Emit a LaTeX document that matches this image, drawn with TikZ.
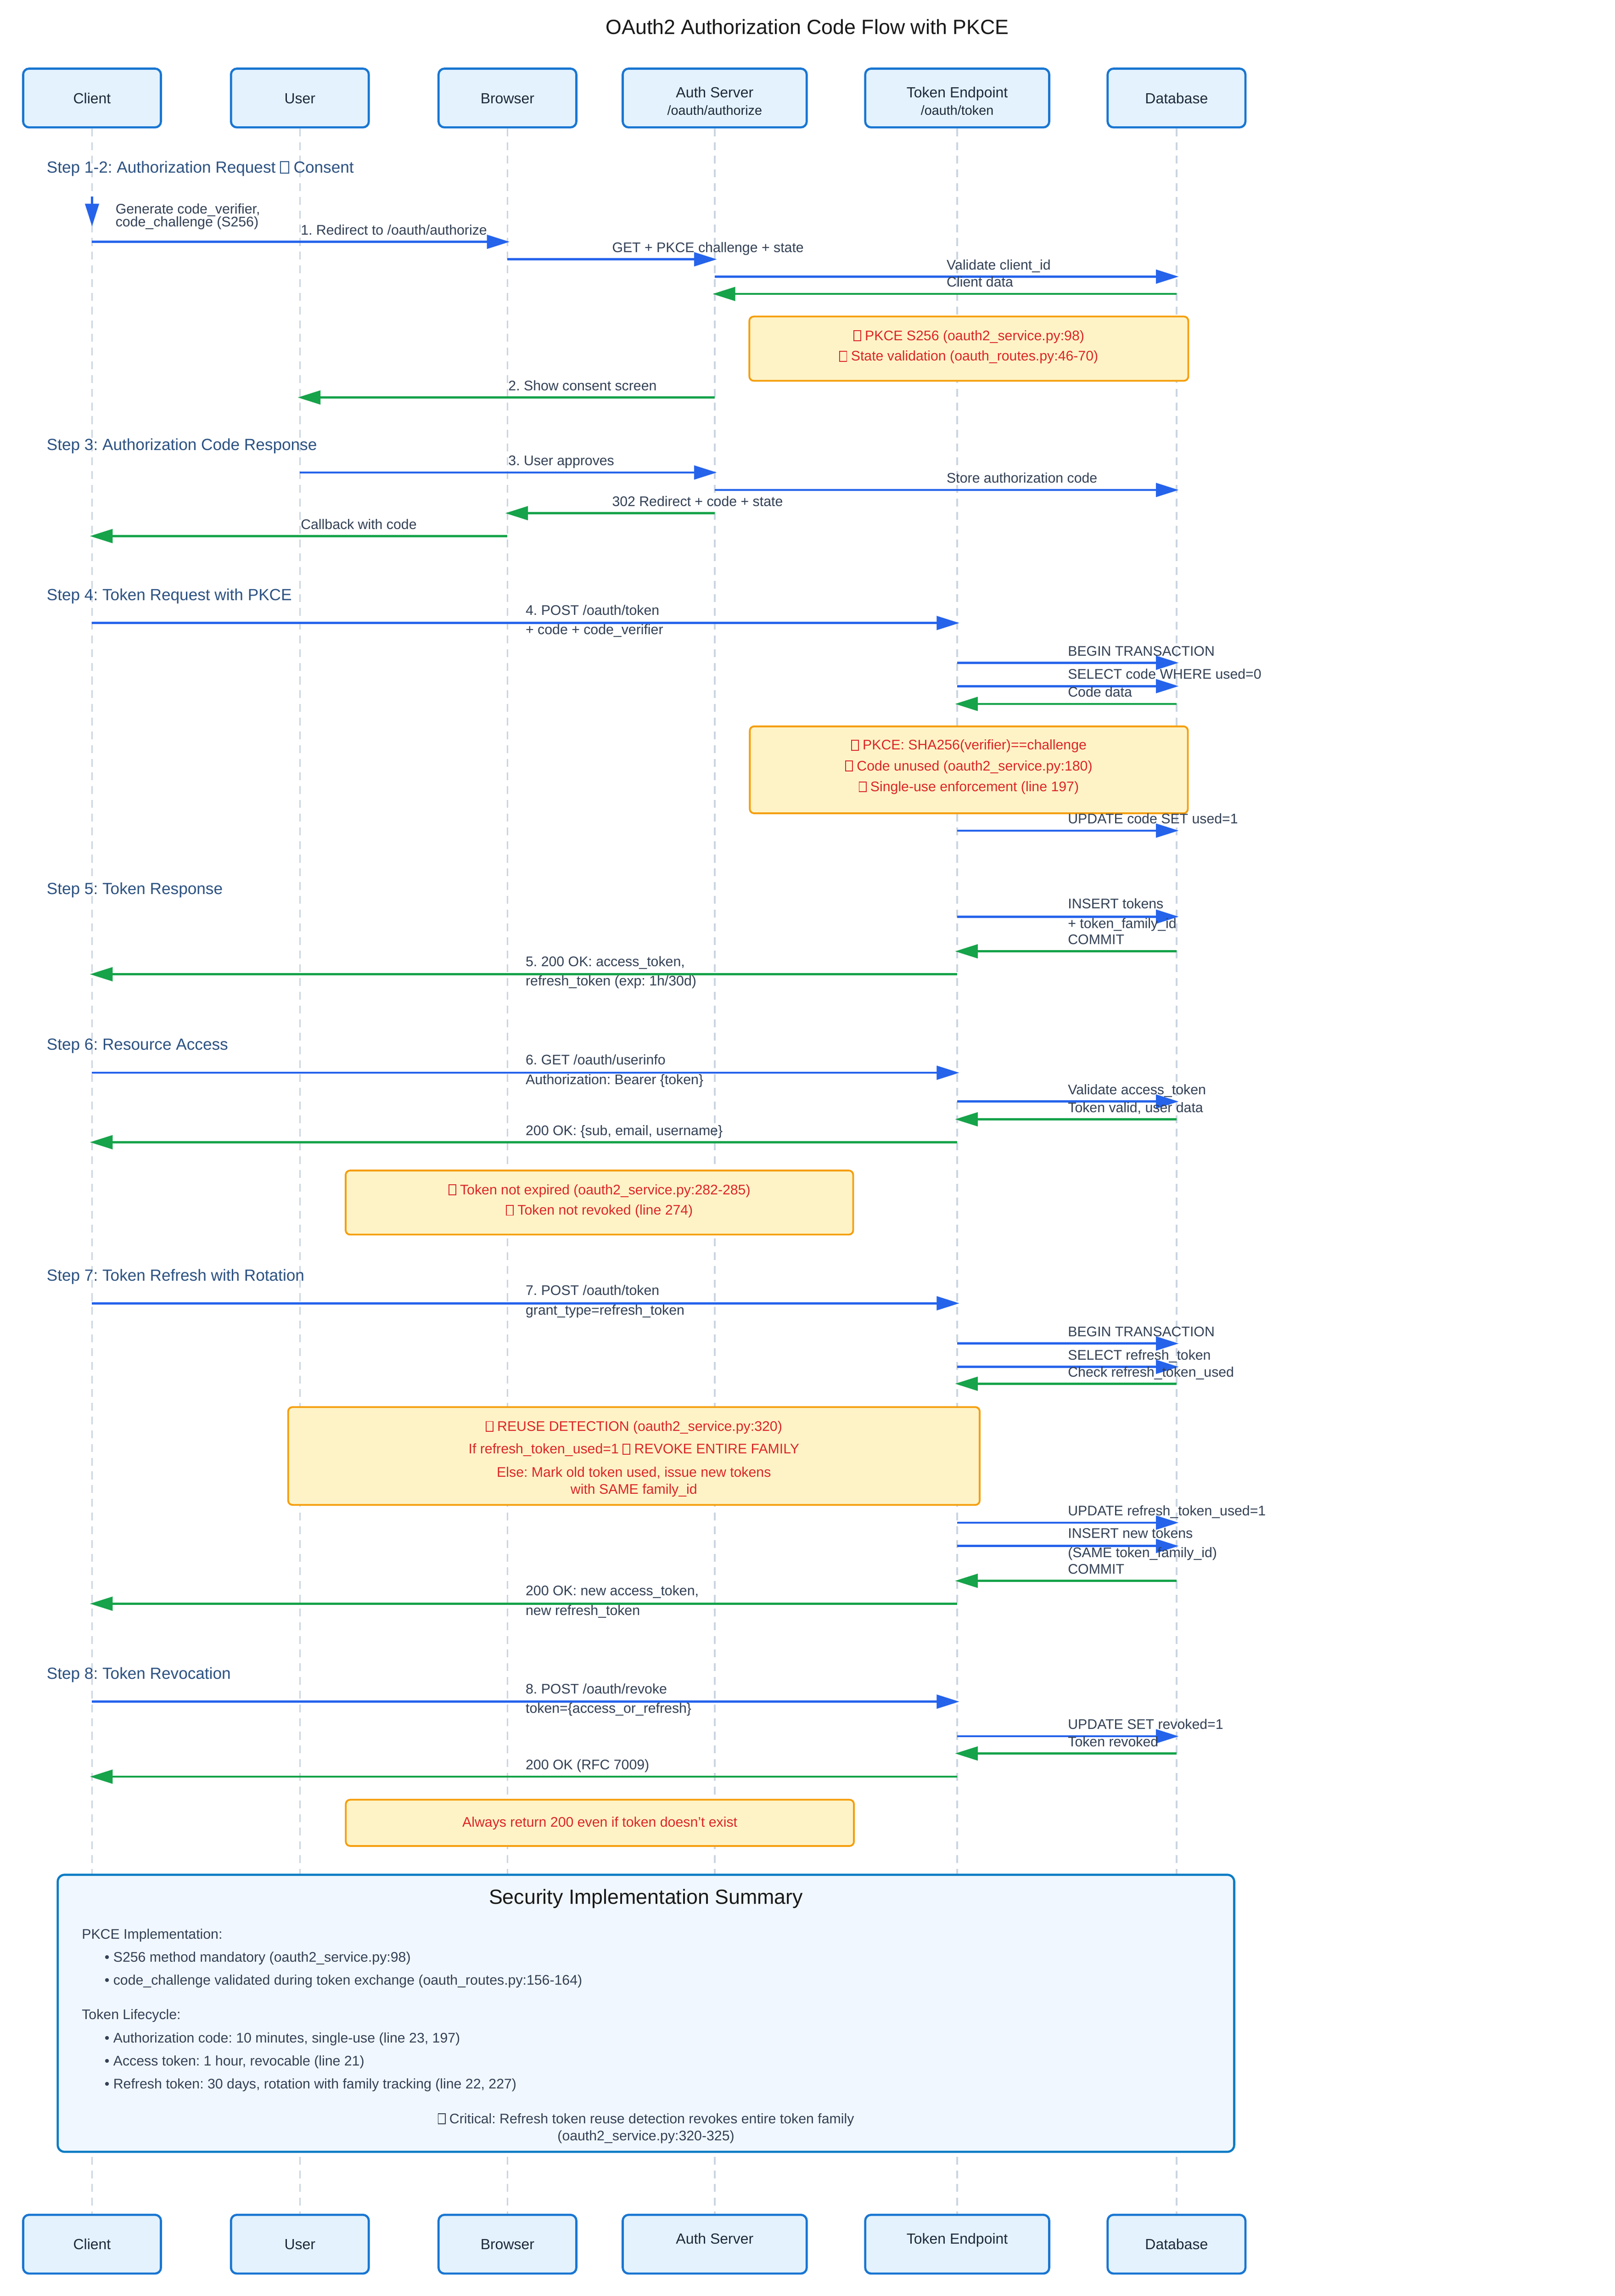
\documentclass[tikz,border=0pt]{standalone}
\usepackage{fontspec}
\setmainfont{Liberation Sans}
\usetikzlibrary{arrows.meta}
\definecolor{boxfill}{HTML}{E3F2FD}
\definecolor{boxline}{HTML}{1976D2}
\definecolor{sumfill}{HTML}{F0F7FF}
\definecolor{sumline}{HTML}{0A7BC4}
\definecolor{notefill}{HTML}{FEF3C7}
\definecolor{noteline}{HTML}{F59E0B}
\definecolor{notered}{HTML}{DC2626}
\definecolor{reqblue}{HTML}{2563EB}
\definecolor{respgreen}{HTML}{16A34A}
\definecolor{ink}{HTML}{334155}
\definecolor{boxink}{HTML}{1E293B}
\definecolor{stepblue}{HTML}{2C5282}
\definecolor{lifegray}{HTML}{CBD5E1}
\newcommand{\tofu}{{\fboxsep=0pt\fboxrule=0.06em\fbox{\rule{0pt}{0.66em}\hspace{0.44em}}}}
\newcommand{\msgfont}{\fontsize{7.1}{8.5}\selectfont}
\frenchspacing

\begin{document}
\begin{tikzpicture}[x=0.75pt, y=-0.75pt,
    actor/.style={draw=boxline, fill=boxfill, line width=1.1pt, rounded corners=3pt, minimum height=30pt, inner sep=0pt},
    narrow/.style={actor, minimum width=70.4pt},
    wide/.style={actor, minimum width=94pt},
    actorname/.style={anchor=base, inner sep=0pt, text=boxink, font=\fontsize{7.5}{9}\selectfont},
    actorsub/.style={anchor=base, inner sep=0pt, text=boxink, font=\fontsize{6.75}{8}\selectfont},
    lifeline/.style={draw=lifegray, line width=0.8pt, dash pattern=on 4pt off 3pt},
    req/.style={draw=reqblue, line width=1.1pt, shorten >=-1.1pt, -{Triangle[length=11.6pt, width=7pt]}},
    resp/.style={draw=respgreen, line width=1.1pt, shorten >=-1.1pt, -{Triangle[length=11.6pt, width=7pt]}},
    lbl/.style={pos=0.5, anchor=base west, inner sep=0pt, text=ink, font=\msgfont},
    msg/.style={lbl, yshift=3.6pt},
    msgtop/.style={lbl, yshift=4.1pt},
    msgbot/.style={lbl, yshift=-5.85pt},
    stephead/.style={anchor=base west, inner sep=0pt, text=stepblue, font=\fontsize{8.25}{10}\selectfont},
    note/.style={draw=noteline, fill=notefill, line width=0.9pt, rounded corners=2.2pt, inner sep=0pt},
    notetext/.style={anchor=base, inner sep=0pt, text=notered, font=\msgfont},
    sumtext/.style={anchor=base west, inner sep=0pt, text=ink, font=\msgfont}
  ]
  \useasboundingbox (0,0) rectangle (1100,1563.7);
  \fill[white] (0,0) rectangle (1100,1563.7);

  \node[anchor=base, inner sep=0pt, text=black!90, font=\fontsize{10.5}{12}\selectfont] (title) at (550,23.3) {OAuth2 Authorization Code Flow with PKCE};

  \node[narrow] (client) at (62.7,66.75) {};
  \node[narrow] (user) at (204.3,66.75) {};
  \node[narrow] (browser) at (345.7,66.75) {};
  \node[wide] (auth) at (486.9,66.75) {};
  \node[wide] (token) at (652.1,66.75) {};
  \node[narrow] (db) at (801.5,66.75) {};
  \node[narrow] (clientB) at (62.7,1528.4) {};
  \node[narrow] (userB) at (204.3,1528.4) {};
  \node[narrow] (browserB) at (345.7,1528.4) {};
  \node[wide] (authB) at (486.9,1528.4) {};
  \node[wide] (tokenB) at (652.1,1528.4) {};
  \node[narrow] (dbB) at (801.5,1528.4) {};

  \node[actorname] (clientT) at (62.7,70.4) {Client};
  \node[actorname] (userT) at (204.3,70.4) {User};
  \node[actorname] (browserT) at (345.7,70.4) {Browser};
  \node[actorname] (authT) at (486.9,66.6) {Auth Server};
  \node[actorsub] (authS) at (486.9,78.5) {/oauth/authorize};
  \node[actorname] (tokenT) at (652.1,66.6) {Token Endpoint};
  \node[actorsub] (tokenS) at (652.1,78.5) {/oauth/token};
  \node[actorname] (dbT) at (801.5,70.4) {Database};
  \node[actorname] (clientBT) at (62.7,1531.9) {Client};
  \node[actorname] (userBT) at (204.3,1531.9) {User};
  \node[actorname] (browserBT) at (345.7,1531.9) {Browser};
  \node[actorname] (authBT) at (486.9,1528.1) {Auth Server};
  \node[actorname] (tokenBT) at (652.1,1528.1) {Token Endpoint};
  \node[actorname] (dbBT) at (801.5,1531.9) {Database};

  \draw[lifeline] (client.south) -- (clientB.north);
  \draw[lifeline] (user.south) -- (userB.north);
  \draw[lifeline] (browser.south) -- (browserB.north);
  \draw[lifeline] (auth.south) -- (authB.north);
  \draw[lifeline] (token.south) -- (tokenB.north);
  \draw[lifeline] (db.south) -- (dbB.north);

  \node[stephead] (step12) at (31.6,117.6) {Step 1-2: Authorization Request \tofu{} Consent};
  \draw[req, shorten >=0pt] (client |- 0,133.7) -- (client |- 0,154.2);
  \node[sumtext] (gen1) at (78.5,145.5) {Generate code\_verifier,};
  \node[sumtext] (gen2) at (78.5,154.4) {code\_challenge (S256)};
  \draw[req] (client |- 0,164.7) -- (browser |- 0,164.7) node[msg] {1. Redirect to /oauth/authorize};
  \draw[req] (browser |- 0,176.6) -- (auth |- 0,176.6) node[msg] {GET + PKCE challenge + state};
  \draw[req] (auth |- 0,188.4) -- (db |- 0,188.4) node[msg] {Validate client\_id};
  \draw[resp] (db |- 0,200.2) -- (auth |- 0,200.2) node[msg] {Client data};
  \node[note, minimum width=224.25pt, minimum height=32.8pt] (note1) at (660,237.45) {};
  \node[notetext] (note1a) at (660,231.8) {\tofu{} PKCE S256 (oauth2\_service.py:98)};
  \node[notetext] (note1b) at (660,245.8) {\tofu{} State validation (oauth\_routes.py:46-70)};
  \draw[resp] (auth |- 0,270.7) -- (user |- 0,270.7) node[msg] {2. Show consent screen};

  \node[stephead] (step3) at (31.6,306.6) {Step 3: Authorization Code Response};
  \draw[req] (user |- 0,321.8) -- (auth |- 0,321.8) node[msg] {3. User approves};
  \draw[req] (auth |- 0,333.7) -- (db |- 0,333.7) node[msg] {Store authorization code};
  \draw[resp] (auth |- 0,349.5) -- (browser |- 0,349.5) node[msg] {302 Redirect + code + state};
  \draw[resp] (browser |- 0,365.1) -- (client |- 0,365.1) node[msg] {Callback with code};

  \node[stephead] (step4) at (31.6,408.8) {Step 4: Token Request with PKCE};
  \draw[req] (client |- 0,424.3) -- (token |- 0,424.3) node[msgtop] {4. POST /oauth/token} node[msgbot] {+ code + code\_verifier};
  \draw[req] (token |- 0,451.4) -- (db |- 0,451.4) node[msg] {BEGIN TRANSACTION};
  \draw[req] (token |- 0,467.3) -- (db |- 0,467.3) node[msg] {SELECT code WHERE used=0};
  \draw[resp] (db |- 0,479.4) -- (token |- 0,479.4) node[msg] {Code data};
  \node[note, minimum width=223.8pt, minimum height=44.4pt] (note2) at (660,524.3) {};
  \node[notetext] (note2a) at (660,510.7) {\tofu{} PKCE: SHA256(verifier)==challenge};
  \node[notetext] (note2b) at (660,524.8) {\tofu{} Code unused (oauth2\_service.py:180)};
  \node[notetext] (note2c) at (660,539.0) {\tofu{} Single-use enforcement (line 197)};
  \draw[req] (token |- 0,565.7) -- (db |- 0,565.7) node[msg] {UPDATE code SET used=1};

  \node[stephead] (step5) at (31.6,609) {Step 5: Token Response};
  \draw[req] (token |- 0,624.3) -- (db |- 0,624.3) node[msgtop] {INSERT tokens} node[msgbot] {+ token\_family\_id};
  \draw[resp] (db |- 0,647.9) -- (token |- 0,647.9) node[msg] {COMMIT};
  \draw[resp] (token |- 0,663.5) -- (client |- 0,663.5) node[msgtop] {5. 200 OK: access\_token,} node[msgbot] {refresh\_token (exp: 1h/30d)};

  \node[stephead] (step6) at (31.6,715) {Step 6: Resource Access};
  \draw[req] (client |- 0,730.6) -- (token |- 0,730.6) node[msgtop] {6. GET /oauth/userinfo} node[msgbot] {Authorization: Bearer \{token\}};
  \draw[req] (token |- 0,750.2) -- (db |- 0,750.2) node[msg] {Validate access\_token};
  \draw[resp] (db |- 0,762.3) -- (token |- 0,762.3) node[msg] {Token valid, user data};
  \draw[resp] (token |- 0,777.9) -- (client |- 0,777.9) node[msg] {200 OK: \{sub, email, username\}};
  \node[note, minimum width=259.3pt, minimum height=32.7pt] (note3) at (408.35,819) {};
  \node[notetext] (note3a) at (408.35,813.5) {\tofu{} Token not expired (oauth2\_service.py:282-285)};
  \node[notetext] (note3b) at (408.35,827.4) {\tofu{} Token not revoked (line 274)};

  \node[stephead] (step7) at (31.6,872.3) {Step 7: Token Refresh with Rotation};
  \draw[req] (client |- 0,887.6) -- (token |- 0,887.6) node[msgtop] {7. POST /oauth/token} node[msgbot] {grant\_type=refresh\_token};
  \draw[req] (token |- 0,915.0) -- (db |- 0,915.0) node[msg] {BEGIN TRANSACTION};
  \draw[req] (token |- 0,930.9) -- (db |- 0,930.9) node[msg] {SELECT refresh\_token};
  \draw[resp] (db |- 0,942.4) -- (token |- 0,942.4) node[msg] {Check refresh\_token\_used};
  \node[note, minimum width=353.3pt, minimum height=49.95pt] (note4) at (431.85,991.6) {};
  \node[notetext] (note4a) at (431.85,974.6) {\tofu{} REUSE DETECTION (oauth2\_service.py:320)};
  \node[notetext] (note4b) at (431.85,990.1) {If refresh\_token\_used=1 \tofu{} REVOKE ENTIRE FAMILY};
  \node[notetext] (note4c) at (431.85,1006) {Else: Mark old token used, issue new tokens};
  \node[notetext] (note4d) at (431.85,1017.6) {with SAME family\_id};
  \draw[req] (token |- 0,1037.0) -- (db |- 0,1037.0) node[msg] {UPDATE refresh\_token\_used=1};
  \draw[req] (token |- 0,1052.9) -- (db |- 0,1052.9) node[msgtop] {INSERT new tokens} node[msgbot] {(SAME token\_family\_id)};
  \draw[resp] (db |- 0,1076.6) -- (token |- 0,1076.6) node[msg] {COMMIT};
  \draw[resp] (token |- 0,1092.2) -- (client |- 0,1092.2) node[msgtop] {200 OK: new access\_token,} node[msgbot] {new refresh\_token};

  \node[stephead] (step8) at (31.6,1143.5) {Step 8: Token Revocation};
  \draw[req] (client |- 0,1158.9) -- (token |- 0,1158.9) node[msgtop] {8. POST /oauth/revoke} node[msgbot] {token=\{access\_or\_refresh\}};
  \draw[req] (token |- 0,1182.5) -- (db |- 0,1182.5) node[msg] {UPDATE SET revoked=1};
  \draw[resp] (db |- 0,1194.2) -- (token |- 0,1194.2) node[msg] {Token revoked};
  \draw[resp] (token |- 0,1210.0) -- (client |- 0,1210.0) node[msg] {200 OK (RFC 7009)};
  \node[note, minimum width=259.6pt, minimum height=23.6pt] (note5) at (408.65,1241.45) {};
  \node[notetext] (note5a) at (408.65,1244.2) {Always return 200 even if token doesn't exist};

  \node[draw=sumline, fill=sumfill, line width=1.1pt, rounded corners=3.5pt, minimum width=601.1pt, minimum height=141.5pt, inner sep=0pt] (summary) at (440.05,1371.15) {};
  \node[anchor=base, inner sep=0pt, text=black!90, font=\fontsize{10.5}{12}\selectfont] (sumtitle) at (440.05,1296.9) {Security Implementation Summary};
  \node[sumtext] (pkce) at (55.5,1320.4) {PKCE Implementation:};
  \node[sumtext] (pkce1) at (71,1336.1) {• S256 method mandatory (oauth2\_service.py:98)};
  \node[sumtext] (pkce2) at (71,1351.8) {• code\_challenge validated during token exchange (oauth\_routes.py:156-164)};
  \node[sumtext] (life) at (55.5,1375.2) {Token Lifecycle:};
  \node[sumtext] (life1) at (71,1391.2) {• Authorization code: 10 minutes, single-use (line 23, 197)};
  \node[sumtext] (life2) at (71,1406.7) {• Access token: 1 hour, revocable (line 21)};
  \node[sumtext] (life3) at (71,1422.4) {• Refresh token: 30 days, rotation with family tracking (line 22, 227)};
  \node[anchor=base, inner sep=0pt, text=ink, font=\msgfont] (crit1) at (440.05,1446.1) {\tofu{} Critical: Refresh token reuse detection revokes entire token family};
  \node[anchor=base, inner sep=0pt, text=ink, font=\msgfont] (crit2) at (440.05,1457.7) {(oauth2\_service.py:320-325)};
\end{tikzpicture}
\end{document}
